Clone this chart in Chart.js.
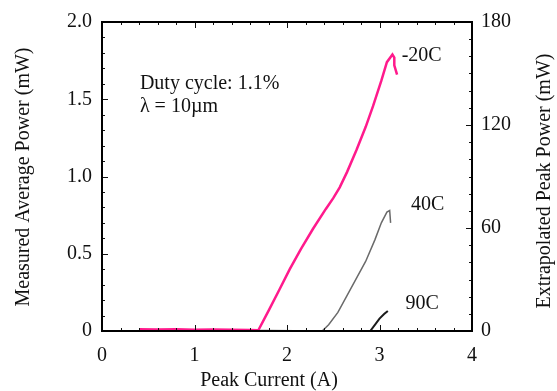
<!DOCTYPE html>
<html lang="en">
<head>
<meta charset="UTF-8">
<title>Peak current vs power</title>
<script src="https://cdn.jsdelivr.net/npm/chart.js@4.4.1/dist/chart.umd.min.js"></script>
<style>
  html, body { margin: 0; padding: 0; background: #fff; }
  #wrap { width: 557px; height: 391px; }
</style>
</head>
<body>
<div id="wrap"><canvas id="myChart" width="557" height="391"></canvas></div>
<script>
// data
var curM20 = [0.40, 0.60, 0.80, 1.00, 1.20, 1.40, 1.60, 1.69, 1.80, 1.92, 2.03, 2.15, 2.28, 2.42, 2.50, 2.57, 2.65, 2.75, 2.85, 2.93, 3.02, 3.08, 3.14, 3.16, 3.16, 3.19];
var powM20 = [0.012, 0.010, 0.012, 0.008, 0.010, 0.008, 0.006, 0.005, 0.13, 0.27, 0.40, 0.53, 0.66, 0.79, 0.86, 0.93, 1.03, 1.17, 1.32, 1.455, 1.62, 1.74, 1.79, 1.77, 1.72, 1.66];
var cur40 = [1.40, 1.50, 2.38, 2.45, 2.55, 2.65, 2.75, 2.85, 2.95, 3.02, 3.08, 3.11, 3.12];
var pow40 = [0.010, 0.005, 0.0, 0.04, 0.12, 0.23, 0.34, 0.45, 0.59, 0.70, 0.77, 0.78, 0.70];
var cur90 = [2.90, 2.95, 3.00, 3.05, 3.09];
var pow90 = [0.0, 0.04, 0.08, 0.11, 0.13];

var xTicks = [0, 1, 2, 3, 4];
var yTicks = [0, 0.5, 1.0, 1.5, 2.0];
var y2Ticks = [0, 60, 120, 180];

var f_pts = function(p_x, p_y){
    var v_out = [];
    for(var i=0; i<p_x.length; i++){
        v_out.push({x: p_x[i], y: p_y[i]});
    }
    return v_out;
};

var FONT = "'Liberation Serif', 'Times New Roman', serif";

// frame, inward ticks, titles and notes
var framePlugin = {
    id: 'framePlugin',
    afterDraw: function(chart){
        var c = chart.ctx;
        var a = chart.chartArea;
        var sx = chart.scales.x, sy = chart.scales.y, sy2 = chart.scales.y2;
        c.save();
        c.strokeStyle = '#111';
        c.lineWidth = 1;
        // minor/major ticks, all pointing in
        var i, p;
        for(i=0; i<=20; i++){
            p = Math.round(sx.getPixelForValue(i*0.2)) + 0.5;
            var len = (i % 5 === 0) ? 6 : 3;
            c.beginPath(); c.moveTo(p, a.bottom); c.lineTo(p, a.bottom - len); c.stroke();
            c.beginPath(); c.moveTo(p, a.top); c.lineTo(p, a.top + len); c.stroke();
        }
        for(i=0; i<=20; i++){
            p = Math.round(sy.getPixelForValue(i*0.1)) + 0.5;
            var len2 = (i % 5 === 0) ? 6 : 3;
            c.beginPath(); c.moveTo(a.left, p); c.lineTo(a.left + len2, p); c.stroke();
        }
        for(i=0; i<=18; i++){
            p = Math.round(sy2.getPixelForValue(i*10)) + 0.5;
            var len3 = (i % 6 === 0) ? 6 : 3;
            c.beginPath(); c.moveTo(a.right, p); c.lineTo(a.right - len3, p); c.stroke();
        }
        // frame
        c.lineWidth = 2;
        c.strokeStyle = '#000';
        c.strokeRect(a.left, a.top, a.right - a.left, a.bottom - a.top);

        // axis titles
        c.fillStyle = '#111';
        c.font = '20px ' + FONT;
        c.textAlign = 'center';
        c.textBaseline = 'middle';
        c.fillText('Peak Current (A)', 269, 381);
        c.save();
        c.translate(24, 177);
        c.rotate(-Math.PI/2);
        c.fillText('Measured Average Power (mW)', 0, 0);
        c.restore();
        c.save();
        c.translate(545, 181);
        c.rotate(-Math.PI/2);
        c.fillText('Extrapolated Peak Power (mW)', 0, 0);
        c.restore();

        // notes and curve labels, anchored in data units
        c.textAlign = 'left';
        c.fillText('Duty cycle: 1.1%', sx.getPixelForValue(0.41), sy.getPixelForValue(1.60));
        c.fillText('\u03bb = 10\u00b5m', sx.getPixelForValue(0.41), sy.getPixelForValue(1.45));
        c.fillText('-20C', sx.getPixelForValue(3.24), sy.getPixelForValue(1.78));
        c.fillText('40C', sx.getPixelForValue(3.34), sy.getPixelForValue(0.82));
        c.fillText('90C', sx.getPixelForValue(3.28), sy.getPixelForValue(0.175));
        c.restore();
    }
};

const ctx = document.getElementById('myChart').getContext('2d');
const myChart = new Chart(ctx, {
    type: 'scatter',
    data: {
        datasets: [{
            label: '-20C',
            data: f_pts(curM20, powM20),
            showLine: true,
            borderColor: '#ff1a8c',
            borderWidth: 2.5,
            pointRadius: 0,
            tension: 0
        }, {
            label: '40C',
            data: f_pts(cur40, pow40),
            showLine: true,
            borderColor: '#6a6a6a',
            borderWidth: 1.5,
            pointRadius: 0,
            tension: 0
        }, {
            label: '90C',
            data: f_pts(cur90, pow90),
            showLine: true,
            borderColor: '#1a1a1a',
            borderWidth: 2,
            pointRadius: 0,
            tension: 0
        }]
    },
    options: {
        responsive: false,
        animation: false,
        layout: { padding: { top: 21, left: 0, right: 0, bottom: 0 } },
        plugins: {
            legend: { display: false },
            tooltip: { enabled: false }
        },
        scales: {
            x: {
                type: 'linear',
                min: 0, max: 4,
                afterBuildTicks: function(s){ s.ticks = xTicks.map(function(v){ return {value: v}; }); },
                afterFit: function(s){ s.height = 60; },
                grid: { display: false, drawTicks: false },
                border: { display: false },
                ticks: { color: '#111', font: { family: FONT, size: 20 }, padding: 13 }
            },
            y: {
                type: 'linear',
                position: 'left',
                min: 0, max: 2,
                afterBuildTicks: function(s){ s.ticks = yTicks.map(function(v){ return {value: v}; }); },
                afterFit: function(s){ s.width = 102; },
                grid: { display: false, drawTicks: false },
                border: { display: false },
                ticks: {
                    color: '#111',
                    font: { family: FONT, size: 20 },
                    padding: 10,
                    callback: function(v){ return v === 0 ? '0' : v.toFixed(1); }
                }
            },
            y2: {
                type: 'linear',
                position: 'right',
                min: 0, max: 180,
                afterBuildTicks: function(s){ s.ticks = y2Ticks.map(function(v){ return {value: v}; }); },
                afterFit: function(s){ s.width = 85; },
                grid: { display: false, drawTicks: false },
                border: { display: false },
                ticks: { color: '#111', font: { family: FONT, size: 20 }, padding: 9 }
            }
        }
    },
    plugins: [framePlugin]
});
</script>
</body>
</html>
